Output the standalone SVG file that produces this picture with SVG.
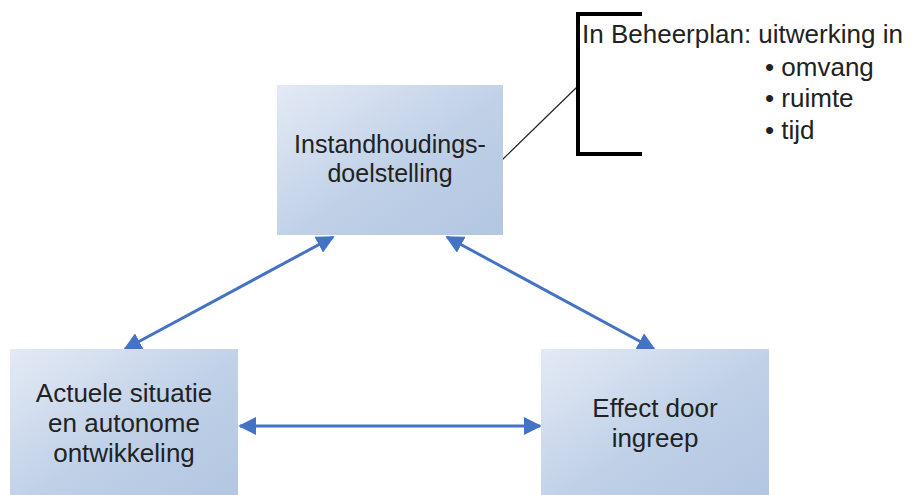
<svg xmlns="http://www.w3.org/2000/svg" width="914" height="495" viewBox="0 0 914 495">
<defs>
<linearGradient id="g" x1="0" y1="0" x2="1" y2="1">
<stop offset="0" stop-color="#E4EAF5"/>
<stop offset="0.55" stop-color="#BFD0E7"/>
<stop offset="1" stop-color="#B3C6E2"/>
</linearGradient>
<marker id="ah" viewBox="0 0 10 10" refX="9" refY="5" markerWidth="6" markerHeight="6" orient="auto-start-reverse" markerUnits="strokeWidth">
<path d="M0,0 L10,5 L0,10 Z" fill="#4472C4"/>
</marker>
<style>
.box{fill:url(#g);}
.t{font-family:"Liberation Sans",Arial,sans-serif;font-size:26px;fill:#222;text-anchor:middle;}
.n{font-family:"Liberation Sans",Arial,sans-serif;font-size:26px;fill:#222;}
.c{stroke:#4472C4;stroke-width:3;fill:none;marker-start:url(#ah);marker-end:url(#ah);}
</style>
</defs>
<rect width="914" height="495" fill="#fff"/>
<g id="connectors">
<line class="c" x1="333" y1="237" x2="125" y2="349"/>
<line class="c" x1="447" y1="237" x2="654" y2="349"/>
<line class="c" x1="240" y1="426" x2="540" y2="426"/>
<line x1="502" y1="160" x2="577" y2="87" stroke="#222" stroke-width="1.2"/>
</g>
<g id="node-doel">
<rect class="box" x="277" y="85" width="226" height="150"/>
<text class="t" x="390" y="153" style="font-size:25px">Instandhoudings-</text>
<text class="t" x="390" y="182" style="font-size:25px">doelstelling</text>
</g>
<g id="node-actueel">
<rect class="box" x="10" y="349" width="228" height="150"/>
<text class="t" x="124" y="402">Actuele situatie</text>
<text class="t" x="124" y="432">en autonome</text>
<text class="t" x="124" y="462">ontwikkeling</text>
</g>
<g id="node-effect">
<rect class="box" x="541" y="349" width="228" height="150"/>
<text class="t" x="655" y="417">Effect door</text>
<text class="t" x="655" y="447">ingreep</text>
</g>
<g id="note">
<path d="M642,14 H578 V154 H642" fill="none" stroke="#000" stroke-width="4"/>
<text class="n" x="582" y="43">In Beheerplan: uitwerking in</text>
<text class="n" x="765" y="76">• omvang</text>
<text class="n" x="765" y="107">• ruimte</text>
<text class="n" x="765" y="139">• tijd</text>
</g>
</svg>
